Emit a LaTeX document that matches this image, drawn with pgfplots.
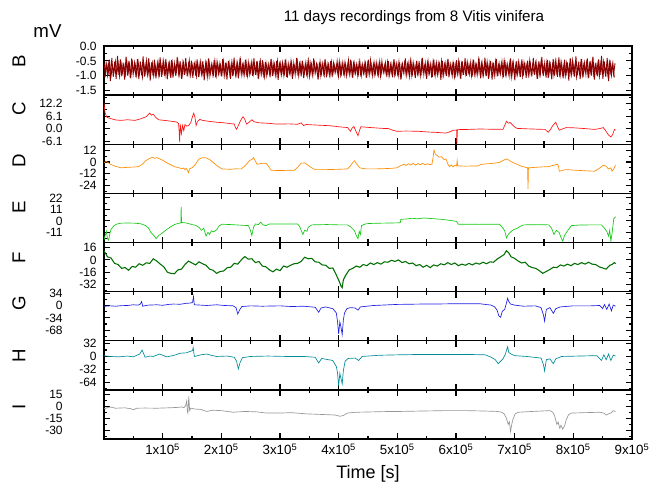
\documentclass[border=0pt]{standalone}
\usepackage{pgfplots}
\pgfplotsset{compat=1.18}
\usepackage{fontspec}
\setmainfont{Liberation Sans}
\usepackage{pgfplotstable}
\definecolor{cB}{RGB}{140,0,0}
\definecolor{cC}{RGB}{255,20,20}
\definecolor{cD}{RGB}{255,140,0}
\definecolor{cE}{RGB}{20,200,20}
\definecolor{cF}{RGB}{0,110,0}
\definecolor{cG}{RGB}{30,30,230}
\definecolor{cH}{RGB}{0,140,150}
\definecolor{cI}{RGB}{150,150,150}
\pgfplotstableread[row sep=\\, header=false]{
-0.58\\ -0.95\\ -0.62\\ -0.90\\ -0.55\\ -0.98\\ -0.66\\ -0.88\\ -0.52\\ -0.93\\ -0.60\\ -1.02\\ -0.57\\ -0.89\\ -0.64\\ -0.96\\ -0.50\\ -0.91\\ -0.61\\ -0.99\\
-0.56\\ -0.87\\ -0.63\\ -0.97\\ -0.53\\ -0.92\\ -0.68\\ -1.05\\ -0.59\\ -0.90\\ -0.48\\ -0.94\\ -0.62\\ -0.88\\ -0.57\\ -1.00\\ -0.65\\ -0.93\\ -0.54\\ -0.96\\
-0.60\\ -0.89\\ -0.51\\ -0.98\\ -0.63\\ -0.91\\ -0.58\\ -1.08\\ -0.55\\ -0.92\\ -0.66\\ -0.87\\ -0.52\\ -0.95\\ -0.61\\ -0.99\\ -0.57\\ -0.90\\ -0.64\\ -0.94\\
-0.49\\ -0.97\\ -0.62\\ -0.88\\ -0.56\\ -1.01\\ -0.60\\ -0.93\\ -0.53\\ -0.96\\ -0.67\\ -0.89\\ -0.58\\ -1.04\\ -0.55\\ -0.91\\ -0.63\\ -0.95\\ -0.50\\ -0.98\\
-0.59\\ -0.90\\ -0.64\\ -0.94\\ -0.52\\ -0.99\\ -0.61\\ -0.87\\ -0.57\\ -1.10\\ -0.54\\ -0.92\\ -0.66\\ -0.96\\ -0.58\\ -0.89\\ -0.47\\ -0.97\\ -0.62\\ -0.93\\
-0.56\\ -1.00\\ -0.60\\ -0.88\\ -0.53\\ -0.95\\ -0.65\\ -0.91\\ -0.59\\ -0.98\\ -0.51\\ -0.94\\ -0.63\\ -1.03\\ -0.57\\ -0.90\\ -0.61\\ -0.96\\ -0.55\\ -0.92\\
-0.62\\ -0.99\\ -0.50\\ -0.89\\ -0.58\\ -0.97\\ -0.64\\ -0.93\\ -0.54\\ -1.06\\ -0.60\\ -0.91\\ -0.56\\ -0.95\\ -0.67\\ -0.88\\ -0.52\\ -1.00\\ -0.59\\ -0.94\\
-0.63\\ -0.90\\ -0.55\\ -0.98\\ -0.49\\ -0.92\\ -0.61\\ -0.96\\ -0.57\\ -0.89\\ -0.65\\ -1.02\\ -0.53\\ -0.93\\ -0.60\\ -0.97\\ -0.58\\ -0.91\\ -0.62\\ -0.99\\
-0.54\\ -0.95\\ -0.64\\ -0.88\\ -0.51\\ -1.01\\ -0.59\\ -0.93\\ -0.56\\ -0.97\\ -0.62\\ -0.90\\ -0.48\\ -0.96\\ -0.60\\ -1.07\\ -0.57\\ -0.92\\ -0.65\\ -0.94\\
-0.53\\ -0.99\\ -0.61\\ -0.89\\ -0.58\\ -0.95\\ -0.46\\ -0.93\\ -0.63\\ -1.00\\ -0.55\\ -0.91\\ -0.60\\ -0.97\\ -0.52\\ -0.94\\ -0.66\\ -0.88\\ -0.57\\ -1.03\\
-0.50\\ -0.96\\ -0.62\\ -1.05\\ -0.44\\ -0.92\\ -0.59\\ -0.99\\ -0.55\\ -1.12\\ -0.61\\ -0.90\\ -0.42\\ -0.97\\ -0.58\\ -1.02\\ -0.53\\ -0.94\\ -0.64\\ -1.08\\
-0.49\\ -0.93\\ -0.60\\ -1.00\\ -0.40\\ -0.95\\ -0.57\\ -1.10\\ -0.52\\ -0.91\\ -0.63\\ -1.04\\ -0.45\\ -0.98\\ -0.56\\ -0.92\\ -0.61\\ -1.14\\ -0.50\\ -0.96\\
-0.58\\ -1.01\\ -0.43\\ -0.94\\ -0.62\\ -0.99\\ -0.54\\ -1.06\\ -0.48\\ -0.93\\ -0.59\\ -1.11\\ -0.51\\ -0.97\\ -0.41\\ -1.00\\ -0.60\\ -0.95\\ -0.55\\ -1.03\\
-0.46\\ -0.98\\ -0.63\\ -0.92\\ -0.52\\ -1.09\\ -0.57\\ -0.96\\ -0.39\\ -1.01\\ -0.61\\ -0.94\\ -0.50\\ -1.13\\ -0.56\\ -0.97\\ -0.44\\ -1.02\\ -0.59\\ -0.93\\
-0.53\\ -1.05\\ -0.47\\ -0.95\\ -0.62\\ -1.00\\ -0.42\\ -0.98\\ -0.58\\ -1.15\\ -0.51\\ -0.94\\ -0.60\\ -1.04\\ -0.45\\ -0.99\\ -0.55\\ -1.07\\ -0.49\\ -0.96\\
-0.61\\ -1.02\\ -0.40\\ -0.97\\ -0.56\\ -1.10\\ -0.52\\ -0.93\\ -0.37\\ -1.01\\ -0.58\\ -1.06\\ -0.47\\ -0.95\\ -0.62\\ -1.12\\ -0.43\\ -0.99\\ -0.54\\ -1.04\\
-0.38\\ -0.97\\ -0.59\\ -1.09\\ -0.46\\ -1.00\\ -0.55\\ -1.16\\ -0.41\\ -0.96\\ -0.60\\ -1.03\\ -0.35\\ -0.98\\ -0.52\\ -1.11\\ -0.44\\ -1.05\\ -0.57\\ -0.95\\
-0.42\\ -1.08\\ -0.50\\ -0.99\\ -0.36\\ -1.13\\ -0.56\\ -1.02\\ -0.45\\ -0.97\\ -0.33\\ -1.10\\ -0.53\\ -1.04\\ -0.40\\ -1.18\\ -0.48\\ -0.98\\ -0.58\\ -1.06\\
}\noiseB
\pgfplotsset{
 panel/.style={
  at={(78pt,-#1pt)}, anchor=north west,
  width=396pt, height=36.84pt, scale only axis,
  xmin=0, xmax=900000,
  xtick={100000,200000,300000,400000,500000,600000,700000,800000,900000},
  minor xtick={50000,150000,250000,350000,450000,550000,650000,750000,850000},
  xticklabels={},
  tick align=inside,
  major tick length=4.5pt, minor tick length=2.5pt,
  every tick/.style={black, line width=0.8pt},
  axis line style={line width=1pt},
  yticklabel style={font=\fontsize{9}{9}\selectfont, xshift=-2pt},
  scaled x ticks=false, scaled y ticks=false,
 },
 shifted/.style={yticklabel style={xshift=-25.5pt}},
}
\begin{document}
\begin{tikzpicture}[x=0.75pt,y=0.75pt]
\useasboundingbox (0,0) rectangle (653,-485);
% B
\begin{axis}[panel=34.5, ymin=-1.65, ymax=0, ytick={0,-0.5,-1,-1.5}, yticklabels={0.0,-0.5,-1.0,-1.5}, minor ytick={-0.25,-0.75,-1.25}]
\addplot[cB, line width=0.65pt] table[x expr=\coordindex*2423, y index=0] {\noiseB};
\addplot[cB, line width=0.65pt] table[x expr=(359-\coordindex)*2423+1211, y index=0] {\noiseB};
\end{axis}
% C
\begin{axis}[panel=71.325, shifted, ymin=-7.6, ymax=16.3, ytick={12.2,6.1,0,-6.1}, yticklabels={12.2,6.1,0.0,-6.1}, minor ytick={15.25,9.15,3.05,-3.05}]
\addplot[cC, line width=0.5pt] coordinates {(0,12.5) (800,10) (2000,7.5) (5000,5.5) (11000,4.9) (20000,4.2) (29000,4) (40000,4.3) (53000,4) (63000,4.8) (72000,5.8) (78000,7.5) (81000,6.5) (84000,7) (88000,5.5) (93000,4.3) (103000,4) (114000,3.6) (124000,3.2) (127000,2.5) (128000,-1) (129000,-6.6) (130000,2) (132000,-2.5) (134000,1.5) (136000,-1) (138000,2) (141000,1.2) (144000,1.4) (148000,3) (151000,6) (153000,7.5) (155000,5.5) (157000,1.5) (159000,3.2) (163000,4.5) (168000,4) (180000,3.5) (192000,3.1) (205000,2.8) (222000,2.2) (224000,0.5) (226000,-0.3) (229000,1.5) (233000,4) (237000,5.8) (240000,4.5) (243000,2.2) (247000,3) (252000,4.3) (256000,3.3) (265000,2.8) (280000,2.6) (294000,2.2) (315000,2.3) (330000,2.1) (336000,2.8) (340000,1.5) (345000,2) (350000,1.9) (370000,1.6) (385000,1.4) (400000,0.9) (415000,0.5) (418000,-0.5) (420000,-1.3) (423000,0.3) (426000,1) (429000,-1) (433000,-3.5) (436000,-0.5) (438000,0.9) (450000,0.6) (475000,0.1) (485000,0) (492000,-0.8) (499000,-1.3) (515000,-1.2) (535000,-1.3) (555000,-1.7) (570000,-1.9) (583000,-2.2) (590000,-1.5) (595000,-0.8) (601000,-0.7) (601500,-7.5) (602500,-0.5) (620000,-0.4) (640000,-0.2) (660000,-0.3) (675000,-0.3) (680000,-0.4) (683000,1.5) (686000,3.6) (689000,2.6) (692000,3) (695000,2.2) (700000,0.8) (704000,0.1) (720000,-0.1) (740000,-0.3) (752000,-0.4) (757000,-1.8) (761000,-0.5) (765000,1.5) (770000,3.1) (773000,1) (776000,-0.8) (781000,-0.2) (788000,0.5) (800000,0.4) (820000,0) (836000,-0.4) (845000,0) (851000,0.5) (855000,-1) (860000,-3.1) (864000,-4) (867000,-3) (870000,-0.4) (872000,-0.8)};
\end{axis}
% D
\begin{axis}[panel=108.19, ymin=-32.2, ymax=18.2, ytick={12,0,-12,-24}, yticklabels={12,0,-12,-24}, minor ytick={6,-6,-18,-30}]
\addplot[cD, line width=0.5pt] coordinates {(0,-0.5) (4000,0.5) (8000,-1) (11000,-2.4) (20000,-4.5) (29000,-6) (40000,-5.5) (50000,-5.2) (59000,-4.8) (66000,-2) (71000,1.3) (77000,3.5) (83000,4.9) (86000,3.8) (90000,4.5) (95000,3.1) (101000,1.5) (108000,-1.2) (114000,-3) (120000,-4.8) (128000,-6) (133000,-7) (136000,-6.2) (138000,-7.8) (140000,-6.5) (142000,-8.5) (144000,-11) (146000,-6.8) (150000,-6) (155000,-3) (159000,0.5) (162000,3.1) (168000,4.5) (174000,4.2) (180000,2.5) (186000,-0.5) (193000,-4) (201000,-7.1) (215000,-7.5) (225000,-7) (234000,-7.1) (240000,-4) (244000,-1.5) (248000,1.5) (252000,2.5) (255000,4.5) (258000,1) (261000,-2.4) (268000,-1.5) (276000,-1.2) (280000,-4) (285000,-8.5) (300000,-8.8) (315000,-8.5) (325000,-8.5) (330000,-5.5) (336000,-1.2) (342000,-1) (348000,-3.4) (354000,-6) (360000,-7.8) (380000,-7.8) (400000,-7.5) (415000,-7.1) (420000,-4) (424000,-0.5) (427000,1.3) (430000,-1.5) (436000,-6) (445000,-7) (451000,-7.1) (470000,-7) (490000,-6.5) (499000,-6) (505000,-4) (511000,-2.4) (515000,-3.5) (519000,-1.8) (523000,-3) (527000,-1.5) (531000,-3.2) (535000,-1.6) (539000,-2.8) (543000,-1.4) (547000,-3) (551000,-1.8) (555000,-2.6) (559000,-2.4) (561000,5) (562500,12.2) (565000,8) (568000,6.5) (571000,4.9) (575000,5.5) (580000,2.5) (583000,3.1) (586000,-2) (589000,-4.8) (592000,-3) (595000,-5) (598000,-3.5) (601000,-4.1) (602000,1.5) (603000,-4) (615000,-4.3) (630000,-4.1) (637000,-4.1) (643000,-2.4) (655000,-1.8) (665000,-1.2) (674000,-0.5) (680000,1.5) (686000,3.1) (690000,2) (695000,0) (704000,-2.4) (712000,-4.5) (722000,-6) (722800,-27.7) (723500,-6) (735000,-5.5) (748000,-5) (758000,-4.8) (765000,-3.5) (773000,-2.4) (775000,-5) (776000,-9.5) (782000,-8.5) (788000,-7.8) (805000,-8.5) (820000,-9) (836000,-9.5) (843000,-7) (851000,-3.4) (856000,-4.5) (860000,-7.1) (864000,-6) (866000,-9.5) (869000,-7) (872000,-3.4)};
\end{axis}
% E
\begin{axis}[panel=145.05, shifted, ymin=-20.7, ymax=26.3, ytick={22,11,0,-11}, yticklabels={22,11,0,-11}, minor ytick={16.5,5.5,-5.5,-16.5}]
\addplot[cE, line width=0.5pt] coordinates {(0,-18) (2000,-14) (4000,-10) (6000,-17) (8000,-18.5) (10000,-12) (12000,-8) (15000,-6) (17000,-4.5) (22000,-3) (29000,-2.2) (40000,-2) (53000,-2.2) (63000,-2.8) (71000,-4.5) (76000,-7) (80000,-11.2) (85000,-14) (89000,-17) (93000,-14) (99000,-11.8) (104000,-9.5) (108000,-7.8) (114000,-5.5) (120000,-3.5) (126000,-2.5) (131000,-1.8) (131500,13.7) (132200,-1.5) (140000,-2) (150000,-3.5) (156000,-4.2) (162000,-6.2) (166000,-9) (170000,-7) (174000,-14.5) (177000,-11) (180000,-13) (183000,-9.5) (187000,-10.5) (192000,-8.5) (196000,-5) (201000,-3.2) (215000,-3.5) (230000,-4) (246000,-4.5) (249000,-8) (252000,-13.9) (255000,-6) (258000,-2.9) (263000,-3.5) (267000,-1.2) (271000,-3.8) (276000,-4.5) (282000,-2.9) (300000,-2.9) (320000,-3) (330000,-2.9) (334000,-6) (339000,-13) (342000,-9) (346000,-10) (348000,-6.2) (354000,-3.8) (380000,-3.5) (400000,-3.8) (415000,-3.8) (421000,-6) (427000,-9.5) (430000,-14) (433000,-17) (435000,-10) (437000,-13) (439000,-4.5) (445000,-3) (451000,-2.5) (470000,-2.2) (490000,-2) (505000,-1.8) (506000,1.5) (515000,1.8) (525000,2.5) (535000,2) (545000,2.8) (559000,2.2) (575000,1.5) (590000,0.5) (601000,-0.5) (604000,-3.2) (620000,-3.2) (640000,-3.3) (660000,-3.2) (674000,-3.2) (679000,-6) (683000,-9.5) (686000,-16.3) (689000,-13) (695000,-9.5) (700000,-8) (704000,-7.2) (710000,-5) (716000,-3.8) (740000,-3.6) (758000,-3.8) (763000,-7) (767000,-13) (771000,-9) (776000,-11.2) (779000,-16) (782000,-19.5) (785000,-14) (788000,-11.2) (792000,-8) (797000,-4.5) (810000,-4) (830000,-3.8) (848000,-3.8) (853000,-7) (857000,-10) (860000,-14.5) (862000,-9) (864000,-19.5) (866000,-12) (869000,2.2) (872000,4)};
\end{axis}
% F
\begin{axis}[panel=181.875, ymin=-41.3, ymax=22.7, ytick={16,0,-16,-32}, yticklabels={16,0,-16,-32}, minor ytick={8,-8,-24,-40}]
\addplot[cF, line width=0.8pt] coordinates {(0,12) (6000,4) (12000,2.5) (18000,-4.5) (24000,-6) (30000,-11) (36000,-10) (42000,-13.5) (48000,-8.5) (54000,-9.5) (60000,-5) (66000,-7) (72000,-3.8) (78000,-4.5) (84000,1.5) (90000,-1.5) (96000,-5.5) (102000,-9) (108000,-16) (114000,-17.5) (120000,-18) (126000,-13) (132000,-12) (138000,-6) (144000,-1.5) (150000,-4) (156000,-6.5) (162000,-2.5) (168000,-5) (174000,-7) (180000,-12) (186000,-13.5) (192000,-17.5) (198000,-15) (204000,-14.5) (210000,-10) (216000,-9.5) (222000,-4.5) (228000,-5.5) (234000,0) (240000,4.5) (246000,1) (252000,1.5) (258000,-3.5) (264000,-2) (270000,-8) (276000,-9) (282000,-13) (288000,-15.5) (294000,-12) (300000,-14) (306000,-8) (312000,-9.5) (318000,-7) (324000,-5) (330000,-4.5) (336000,-2) (342000,3.5) (348000,1.5) (354000,2) (360000,-2.5) (366000,-3) (372000,-6.5) (378000,-7) (384000,-11) (390000,-10.5) (395000,-18) (398000,-23) (401000,-28) (404000,-34) (406000,-36) (408000,-26) (412000,-20) (418000,-13) (424000,-11) (430000,-8) (436000,-9.5) (442000,-6) (448000,-7.5) (454000,-4) (460000,-6) (466000,-3.5) (472000,-5.5) (478000,-2.5) (484000,-3) (490000,-0.5) (496000,-2) (502000,0) (508000,-3.5) (514000,-2) (520000,-5) (526000,-4) (532000,-7.5) (538000,-6) (544000,-9.5) (550000,-7) (556000,-10) (562000,-6.5) (568000,-8) (574000,-5) (580000,-6.5) (586000,-3.5) (592000,-6) (598000,-4) (604000,-7.5) (610000,-5.5) (616000,-7) (622000,-4.5) (628000,-6.5) (634000,-4) (640000,-5.5) (646000,-3) (652000,-5) (658000,-2.5) (664000,-3) (670000,1) (676000,4) (682000,7) (686000,12) (690000,9) (694000,4) (700000,2) (706000,-1.5) (712000,-4) (718000,-3) (724000,-8) (730000,-10) (736000,-11) (742000,-14) (748000,-17.5) (754000,-15) (760000,-12.5) (766000,-9.5) (772000,-10) (778000,-6.5) (784000,-8) (790000,-5.5) (796000,-7.5) (802000,-4.5) (808000,-6) (814000,-3.5) (820000,-5.5) (826000,-3) (832000,-5.5) (838000,-6) (844000,-9) (850000,-10.5) (856000,-12) (862000,-7) (866000,-6) (870000,-3.5) (872000,-5)};
\end{axis}
% G
\begin{axis}[panel=218.7, shifted, ymin=-98, ymax=40, ytick={34,0,-34,-68}, yticklabels={34,0,-34,-68}, minor ytick={17,-17,-51,-85}]
\addplot[cG, line width=0.5pt] coordinates {(0,-1.4) (10000,0) (20000,-1) (30000,0.5) (40000,1) (50000,3) (58000,2) (62000,5) (64000,12) (66000,-1) (75000,2) (90000,3) (100000,1.5) (110000,4) (118000,5) (130000,4.5) (140000,7) (148000,8) (151000,10) (152500,26) (154000,3) (165000,2) (175000,1) (192000,3) (205000,1) (220000,0) (225000,-5) (228000,-23) (231000,-12) (235000,-2) (250000,0) (270000,-1) (300000,0) (320000,-2) (340000,-1) (360000,-4) (366000,-18) (370000,-6) (378000,-3) (390000,-8) (396000,-20) (398000,-43) (400000,-79) (402000,-45) (404000,-60) (406000,-81) (408000,-40) (410000,-20) (414000,-8) (420000,-5) (428000,-6) (433000,-12) (437000,-3) (460000,1) (500000,4) (540000,5) (560000,5) (600000,6) (640000,6) (660000,2) (666000,-3) (670000,-12) (673000,-28) (676000,-32) (679000,-15) (683000,-10) (686000,8) (688000,21) (690000,12) (693000,5) (700000,2) (715000,-1) (735000,0) (745000,-5) (749000,-25) (751000,-43) (754000,-10) (760000,-5) (766000,-21) (770000,-8) (778000,-3) (800000,0) (830000,0) (845000,1) (850000,-8) (853000,4) (857000,-10) (861000,5) (865000,-14) (868000,2) (872000,-1)};
\end{axis}
% H
\begin{axis}[panel=255.56, ymin=-83, ymax=39, ytick={32,0,-32,-64}, yticklabels={32,0,-32,-64}, minor ytick={16,-16,-48,-80}]
\addplot[cH, line width=0.5pt] coordinates {(0,1.7) (10000,0) (25000,-1) (40000,1) (50000,-1) (56000,3) (61000,6) (65000,16) (67000,9) (70000,-2) (78000,1) (84000,0) (95000,6) (107000,-1) (120000,3) (130000,8) (140000,9) (148000,13) (151000,15) (152000,22) (154000,0) (165000,4) (175000,6) (185000,2) (192000,0) (210000,1) (222000,-2) (226000,-12) (229000,-31) (232000,-15) (236000,-3) (250000,0) (280000,1) (310000,0) (340000,0) (360000,-2) (366000,-16) (371000,-5) (390000,-10) (396000,-25) (398000,-40) (400000,-73) (402000,-42) (404000,-55) (406000,-68) (408000,-35) (411000,-12) (416000,-5) (428000,-4) (434000,-10) (440000,0) (470000,3) (500000,4) (540000,5) (580000,5) (620000,5) (650000,4) (660000,-2) (667000,-8) (672000,-18) (676000,-12) (680000,-6) (684000,5) (688000,24) (690000,10) (694000,6) (700000,2) (720000,0) (745000,-4) (749000,-20) (751000,-36) (754000,-8) (760000,-6) (766000,-18) (770000,-6) (780000,0) (810000,1) (840000,2) (848000,-10) (852000,4) (856000,-8) (860000,6) (864000,-10) (868000,3) (872000,1)};
\end{axis}
% I
\begin{axis}[panel=292.43, shifted, ymin=-40.2, ymax=20.7, ytick={15,0,-15,-30}, yticklabels={15,0,-15,-30}, minor ytick={7.5,-7.5,-22.5,-37.5},
 xticklabels={1x10\textsuperscript{5},2x10\textsuperscript{5},3x10\textsuperscript{5},4x10\textsuperscript{5},5x10\textsuperscript{5},6x10\textsuperscript{5},7x10\textsuperscript{5},8x10\textsuperscript{5},9x10\textsuperscript{5}},
 xticklabel style={font=\fontsize{10}{10}\selectfont}]
\addplot[cI, line width=0.5pt] coordinates {(0,-2.8) (5000,-1.5) (10000,-0.5) (20000,-2) (35000,-1.5) (45000,-2.5) (51000,-4) (55000,-2) (70000,-1.8) (90000,-2) (110000,-1.5) (125000,-1) (133000,-0.5) (136000,-1.5) (139000,1) (141000,7) (142000,-5) (143000,-8) (144500,12.6) (146000,-5) (148000,-2) (155000,-3) (165000,-3.5) (175000,-6) (185000,-4.5) (200000,-5) (220000,-7) (240000,-6) (260000,-6.5) (277000,-8) (300000,-8) (320000,-7.5) (345000,-9) (380000,-10) (395000,-10.5) (402000,-12) (408000,-11) (415000,-8) (430000,-7) (460000,-6.5) (490000,-6) (505000,-6) (540000,-5.5) (580000,-5) (618000,-5) (650000,-5.5) (670000,-6) (678000,-7) (682000,-9) (685000,-13) (687000,-17) (689000,-22) (691000,-19) (693000,-31) (695000,-22) (697000,-16) (701000,-9) (706000,-7) (730000,-6) (760000,-5) (765000,-7) (768000,-11) (770000,-17) (772000,-22) (774000,-19) (777000,-27) (779000,-23) (782000,-28) (785000,-24) (788000,-16) (792000,-10) (797000,-8) (820000,-7.5) (845000,-7) (852000,-8) (856000,-10.5) (860000,-9) (864000,-8) (868000,-5) (872000,-6)};
\end{axis}
% texts
\node[font=\fontsize{11.4}{12}\selectfont] at (414,-18) {11 days recordings from 8 Vitis vinifera};
\node[font=\fontsize{14}{14}\selectfont] at (47.5,-31) {mV};
\node[font=\fontsize{13.5}{14}\selectfont] at (368,-474) {Time [s]};
\foreach \L/\Y in {B/61.5,C/108.5,D/161,E/207.5,F/258,G/303.5,H/355.5,I/407}
  \node[font=\fontsize{14}{14}\selectfont, rotate=90] at (19,-\Y) {\L};
\end{tikzpicture}
\end{document}
